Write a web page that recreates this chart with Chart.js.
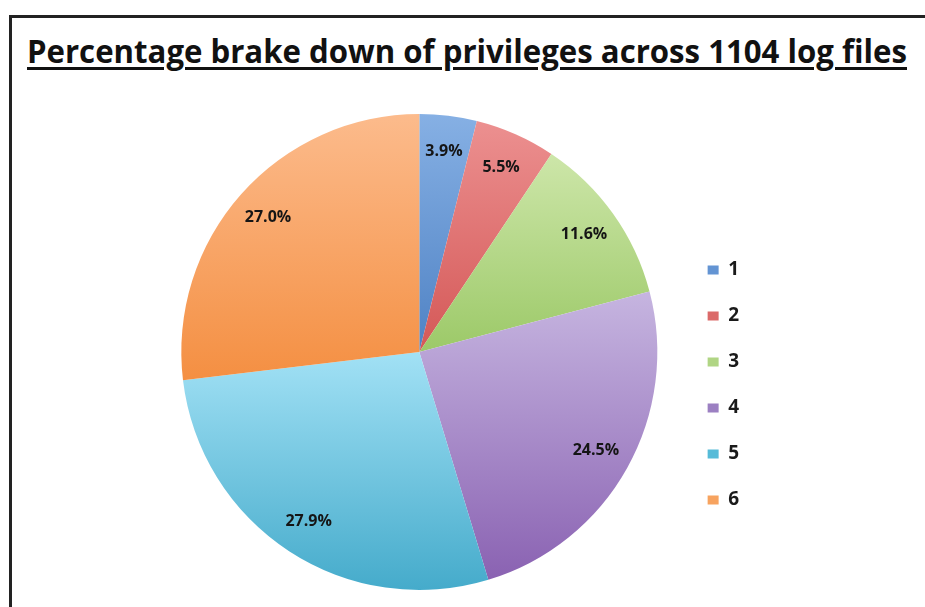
<!DOCTYPE html>
<html>
<head>
<meta charset="utf-8">
<script src="https://cdn.jsdelivr.net/npm/chart.js@4/dist/chart.umd.min.js"></script>
<style>
  html, body { margin: 0; padding: 0; overflow: hidden; }
  body { background: #fff; width: 925px; height: 607px; position: relative; }
  #frameLeft { position: absolute; left: 9px; top: 15px; width: 3px; height: 592px; background: #222; }
  #frameTop { position: absolute; left: 9px; top: 15px; width: 930px; height: 3px; background: #222; }
  #title { position: absolute; left: 27px; top: 28px; white-space: nowrap; font-family: "Open Sans", sans-serif; font-weight: bold;
           font-size: 33px; color: #111; text-decoration: underline; text-decoration-thickness: 3px; text-underline-offset: 4px;
           transform-origin: 0 0; }
  #wrap { position: absolute; left: 0; top: 0; width: 900px; height: 607px; }
</style>
</head>
<body>
<div id="frameLeft"></div>
<div id="frameTop"></div>
<div id="title">Percentage brake down of privileges across 1104 log files</div>
<div id="wrap"><canvas id="myChart"></canvas></div>
<script>
var categories = ["1", "2", "3", "4", "5", "6"];
var percentages = [3.9, 5.5, 11.6, 24.5, 27.9, 27.0];
var baseColors = ["#6394d3", "#db6a69", "#b0d584", "#9c80c2", "#56bbd8", "#f7a35f"];
var lightColors = ["#86b0e4", "#ec9090", "#cde6a9", "#c6b5e0", "#a2e1f5", "#fcbb8c"];
var darkColors = ["#4f82c4", "#d45857", "#9cc968", "#8a62b2", "#45abcb", "#f48f42"];

// squeeze the title to the width it has in the picture
var titleEl = document.getElementById("title");
titleEl.style.transform = "scaleX(" + (880 / titleEl.offsetWidth) + ")";

// each slice gets its own top-to-bottom gradient, like the old Excel style
var sliceGradient = {
    id: "sliceGradient",
    beforeDatasetsDraw: function(chart){
        var ctx = chart.ctx;
        chart.getDatasetMeta(0).data.forEach(function(arc, i){
            var p = arc.getProps(["x", "y", "startAngle", "endAngle", "outerRadius"], true);
            var minY = p.y, maxY = p.y;
            for (var k = 0; k <= 40; k++) {
                var a = p.startAngle + (p.endAngle - p.startAngle) * k / 40;
                var yy = p.y + Math.sin(a) * p.outerRadius;
                minY = Math.min(minY, yy);
                maxY = Math.max(maxY, yy);
            }
            var g = ctx.createLinearGradient(0, minY, 0, maxY);
            g.addColorStop(0, lightColors[i]);
            g.addColorStop(1, darkColors[i]);
            arc.options.backgroundColor = g;
        });
    }
};

var sliceLabels = {
    id: "sliceLabels",
    afterDatasetsDraw: function(chart){
        var ctx = chart.ctx;
        ctx.save();
        ctx.font = "bold 16px 'Open Sans', sans-serif";
        ctx.fillStyle = "#151515";
        ctx.textAlign = "center";
        ctx.textBaseline = "middle";
        chart.getDatasetMeta(0).data.forEach(function(arc, i){
            var p = arc.getProps(["x", "y", "startAngle", "endAngle", "outerRadius"], true);
            var mid = (p.startAngle + p.endAngle) / 2;
            var r = p.outerRadius * 0.85;
            ctx.fillText(percentages[i].toFixed(1) + "%", p.x + Math.cos(mid) * r, p.y + Math.sin(mid) * r);
        });
        ctx.restore();
    }
};

var ctx = document.getElementById("myChart").getContext("2d");
var myChart = new Chart(ctx, {
    type: "pie",
    data: {
        labels: categories,
        datasets: [{
            data: percentages,
            backgroundColor: baseColors,
            borderWidth: 0
        }]
    },
    options: {
        responsive: true,
        maintainAspectRatio: false,
        animation: false,
        layout: { padding: { top: 114, bottom: 17, left: 158, right: 151 } },
        plugins: {
            tooltip: { enabled: false },
            legend: {
                position: "right",
                title: { display: true, text: " ", font: { size: 10 }, padding: { top: 54, bottom: 0 } },
                labels: {
                    boxWidth: 11,
                    boxHeight: 9,
                    padding: 27,
                    color: "#1a1a1a",
                    font: { family: "'Open Sans', sans-serif", size: 19, weight: "bold" }
                }
            }
        }
    },
    plugins: [sliceGradient, sliceLabels]
});
</script>
</body>
</html>
